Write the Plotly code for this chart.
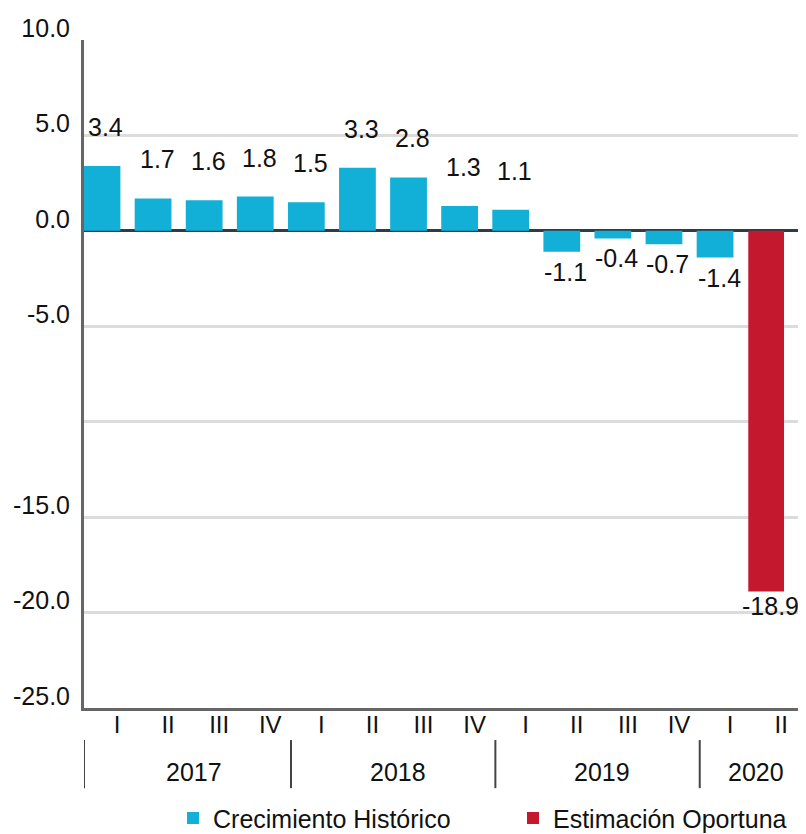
import plotly.graph_objects as go

quarters = ["I", "II", "III", "IV", "I", "II", "III", "IV", "I", "II", "III", "IV", "I", "II"]
years = ["2017", "2018", "2019", "2020"]
year_counts = [4, 4, 4, 2]
historic = [3.4, 1.7, 1.6, 1.8, 1.5, 3.3, 2.8, 1.3, 1.1, -1.1, -0.4, -0.7, -1.4, None]
estimate = [None] * 13 + [-18.9]
value_labels = ["3.4", "1.7", "1.6", "1.8", "1.5", "3.3", "2.8", "1.3", "1.1", "-1.1", "-0.4", "-0.7", "-1.4", "-18.9"]
y_ticks = [10, 5, 0, -5, -10, -15, -20, -25]
y_tick_text = ["10.0", "5.0", "0.0", "-5.0", "", "-15.0", "-20.0", "-25.0"]

FONT = "Liberation Sans, Arial, sans-serif"
TEAL = "#12b0d6"
RED = "#c4182f"

# the page body adds an 8px offset, so the figure is sized to fit the window
FIG_W, FIG_H = 798, 826

xs = list(range(len(quarters)))
x_min, x_max = -0.352, 13.78

fig = go.Figure()
fig.add_trace(go.Bar(x=xs, y=historic, name="Crecimiento Histórico", legend="legend",
                     marker=dict(color=TEAL, line=dict(width=0)), width=0.72))
fig.add_trace(go.Bar(x=xs, y=estimate, name="Estimación Oportuna", legend="legend2",
                     marker=dict(color=RED, line=dict(width=0)), width=0.7))

# value labels
all_vals = [h if h is not None else e for h, e in zip(historic, estimate)]
for i, (v, t) in enumerate(zip(all_vals, value_labels)):
    fig.add_annotation(x=i, y=v, text=t, showarrow=False, xshift=4,
                       yshift=39 if v >= 0 else (-14 if v < -10 else -20),
                       yanchor="middle", font=dict(size=25, color="#111", family=FONT))

# year labels and separators
start = 0
bounds = []
for yr, n in zip(years, year_counts):
    center = start + (n - 1) / 2
    fig.add_annotation(x=center, y=-0.0958, yref="paper", text=yr, showarrow=False,
                       xshift=15, yanchor="middle",
                       font=dict(size=25, color="#111", family=FONT))
    bounds.append(start - 0.5 + 0.2)
    start += n
bounds[0] = x_min
for b in bounds:
    fig.add_shape(type="line", x0=b, x1=b, xref="x", y0=-0.048, y1=-0.12, yref="paper",
                  line=dict(color="#444", width=2))

legend_common = dict(orientation="h", xanchor="left", yanchor="middle",
                     xref="container", yref="container", y=0.019,
                     font=dict(size=25, family=FONT, color="#111"),
                     itemwidth=30, bgcolor="rgba(0,0,0,0)", borderwidth=0)

fig.update_layout(
    width=FIG_W, height=FIG_H,
    margin=dict(l=76, r=0, t=32, b=126, autoexpand=False),
    paper_bgcolor="white", plot_bgcolor="white",
    barmode="overlay",
    font=dict(family=FONT, size=25, color="#111"),
    showlegend=True,
    legend=dict(x=165 / FIG_W, **legend_common),
    legend2=dict(x=505 / FIG_W, **legend_common),
)
fig.update_xaxes(range=[x_min, x_max], tickvals=xs, ticktext=quarters,
                 ticklabelshift=15, ticklabelstandoff=-7, automargin=False,
                 showgrid=False, zeroline=False,
                 showline=True, linecolor="#666", linewidth=3, ticks="",
                 tickfont=dict(size=24, family=FONT, color="#111"))
fig.update_yaxes(range=[-25, 10], tickvals=y_ticks, ticktext=y_tick_text,
                 automargin=False,
                 showgrid=True, gridcolor="#dcdcdc", gridwidth=3,
                 zeroline=True, zerolinecolor="#2e3b48", zerolinewidth=3,
                 showline=True, linecolor="#666", linewidth=3, ticks="",
                 ticklabelshift=-12, ticklabelstandoff=6,
                 tickfont=dict(size=25, family=FONT, color="#111"))

fig.write_html("out.html")
